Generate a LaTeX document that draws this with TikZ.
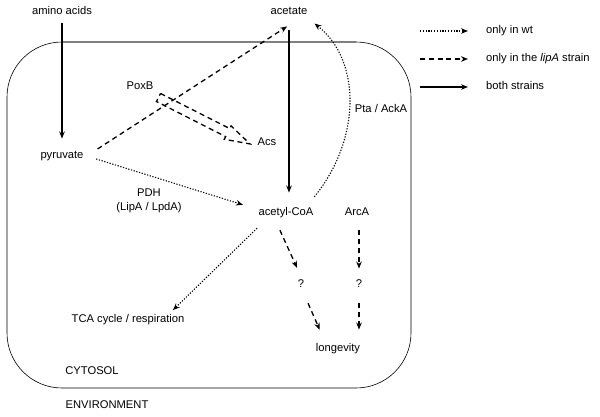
\documentclass[tikz,border=0pt]{standalone}
\usepackage{fontspec}
\setmainfont{Liberation Sans}
\usetikzlibrary{arrows.meta}

\begin{document}
\begin{tikzpicture}[
      x=1pt, y=-1pt, >={Stealth[length=7pt,width=5.5pt]},
      every node/.style={font=\fontsize{11.2}{13.5}\selectfont, inner sep=3pt,
        text height=8pt, text depth=2.5pt},
      wtonly/.style={->, line width=1.1pt, dash pattern=on 1.2pt off 1.6pt},
      lipaonly/.style={->, line width=1.3pt, dash pattern=on 5pt off 3.8pt},
      bothstr/.style={->, line width=1.4pt},
      ]
      \useasboundingbox (0,0) rectangle (600,417);

      % cell
      \draw[line width=0.6pt, rounded corners=55pt] (7,42) rectangle (411,388);
      \draw[gray, line width=1.3pt] (62,42) -- (356,42);

      \node (amino)   at (62,12)   {amino acids};
      \node (acetate) at (289,12)  {acetate};
      \node (pyr)     at (62,156)  {pyruvate};
      \node (poxb)    at (140,87)  {PoxB};
      \node (acs)     at (267,143) {Acs};
      \node (pdh)     at (149,201) [align=center, text height=, text depth=] {PDH\\(LipA / LpdA)};
      \node (acoa)    at (286,213) {acetyl-CoA};
      \node (pta)     at (381,110) {Pta / AckA};
      \node (arca)    at (357,213) {ArcA};
      \node (q1)      at (301,285) {?};
      \node (q2)      at (359,285) {?};
      \node (tca)     at (128,320) {TCA cycle / respiration};
      \node (longev)  at (338,349) {longevity};
      \node (cyto)    at (92,372)  {CYTOSOL};
      \node (env)     at (107,406) {ENVIRONMENT};

      \draw[bothstr, shorten <=3pt, shorten >=9pt] (amino.south) -- (pyr.north);
      \draw[bothstr, shorten <=10pt, shorten >=12pt] (acetate.south) -- (acetate.south |- acoa.north);
      \draw[lipaonly, shorten <=13pt, shorten >=11pt] (pyr.east) -- (acetate.-49);
      \draw[wtonly, shorten <=10pt, shorten >=13pt] (pyr.east) -- (acoa.172);
      \draw[wtonly, shorten <=10pt, shorten >=5pt] (acoa.21) .. controls +(53,-65) and +(51,40) .. (acetate.south east);
      \draw[wtonly, shorten <=9.7pt, shorten >=2pt] (acoa.201) -- (tca.11);
      \draw[lipaonly, shorten <=9.6pt, shorten >=9.6pt] (acoa.-140) -- (q1.north);
      \draw[lipaonly, shorten <=10.7pt, shorten >=11.8pt] (q1.-72) -- (longev.148);
      \draw[lipaonly, shorten <=9pt, shorten >=8pt] (q2.north |- arca.south) -- (q2.north);
      \draw[lipaonly, shorten <=10pt, shorten >=11pt] (q2.south) -- (q2.south |- longev.north);

      % PoxB / Acs block arrow
      \draw[lipaonly, -, shift={(158.5,97.5)}, rotate=-26.9]
        (0,-4.5) -- (77.6,-4.5) -- (77.6,-7.5) -- (102.6,0) -- (77.6,7.5) -- (77.6,4.5) -- (0,4.5) -- cycle;

      % legend
      \node[anchor=west] (lgwt)   at (483,31) {only in wt};
      \node[anchor=west] (lglipa) at (483,59) {only in the \textit{lipA} strain};
      \node[anchor=west] (lgboth) at (483,87) {both strains};
      \coordinate (lwt)   at (420,31);
      \coordinate (llipa) at (420,59);
      \coordinate (lboth) at (420,87);
      \draw[wtonly, shorten >=15pt]   (lwt) -- (lgwt.west);
      \draw[lipaonly, shorten >=15pt] (llipa) -- (lglipa.west);
      \draw[bothstr, shorten >=15pt]  (lboth) -- (lgboth.west);
    \end{tikzpicture}
\end{document}
